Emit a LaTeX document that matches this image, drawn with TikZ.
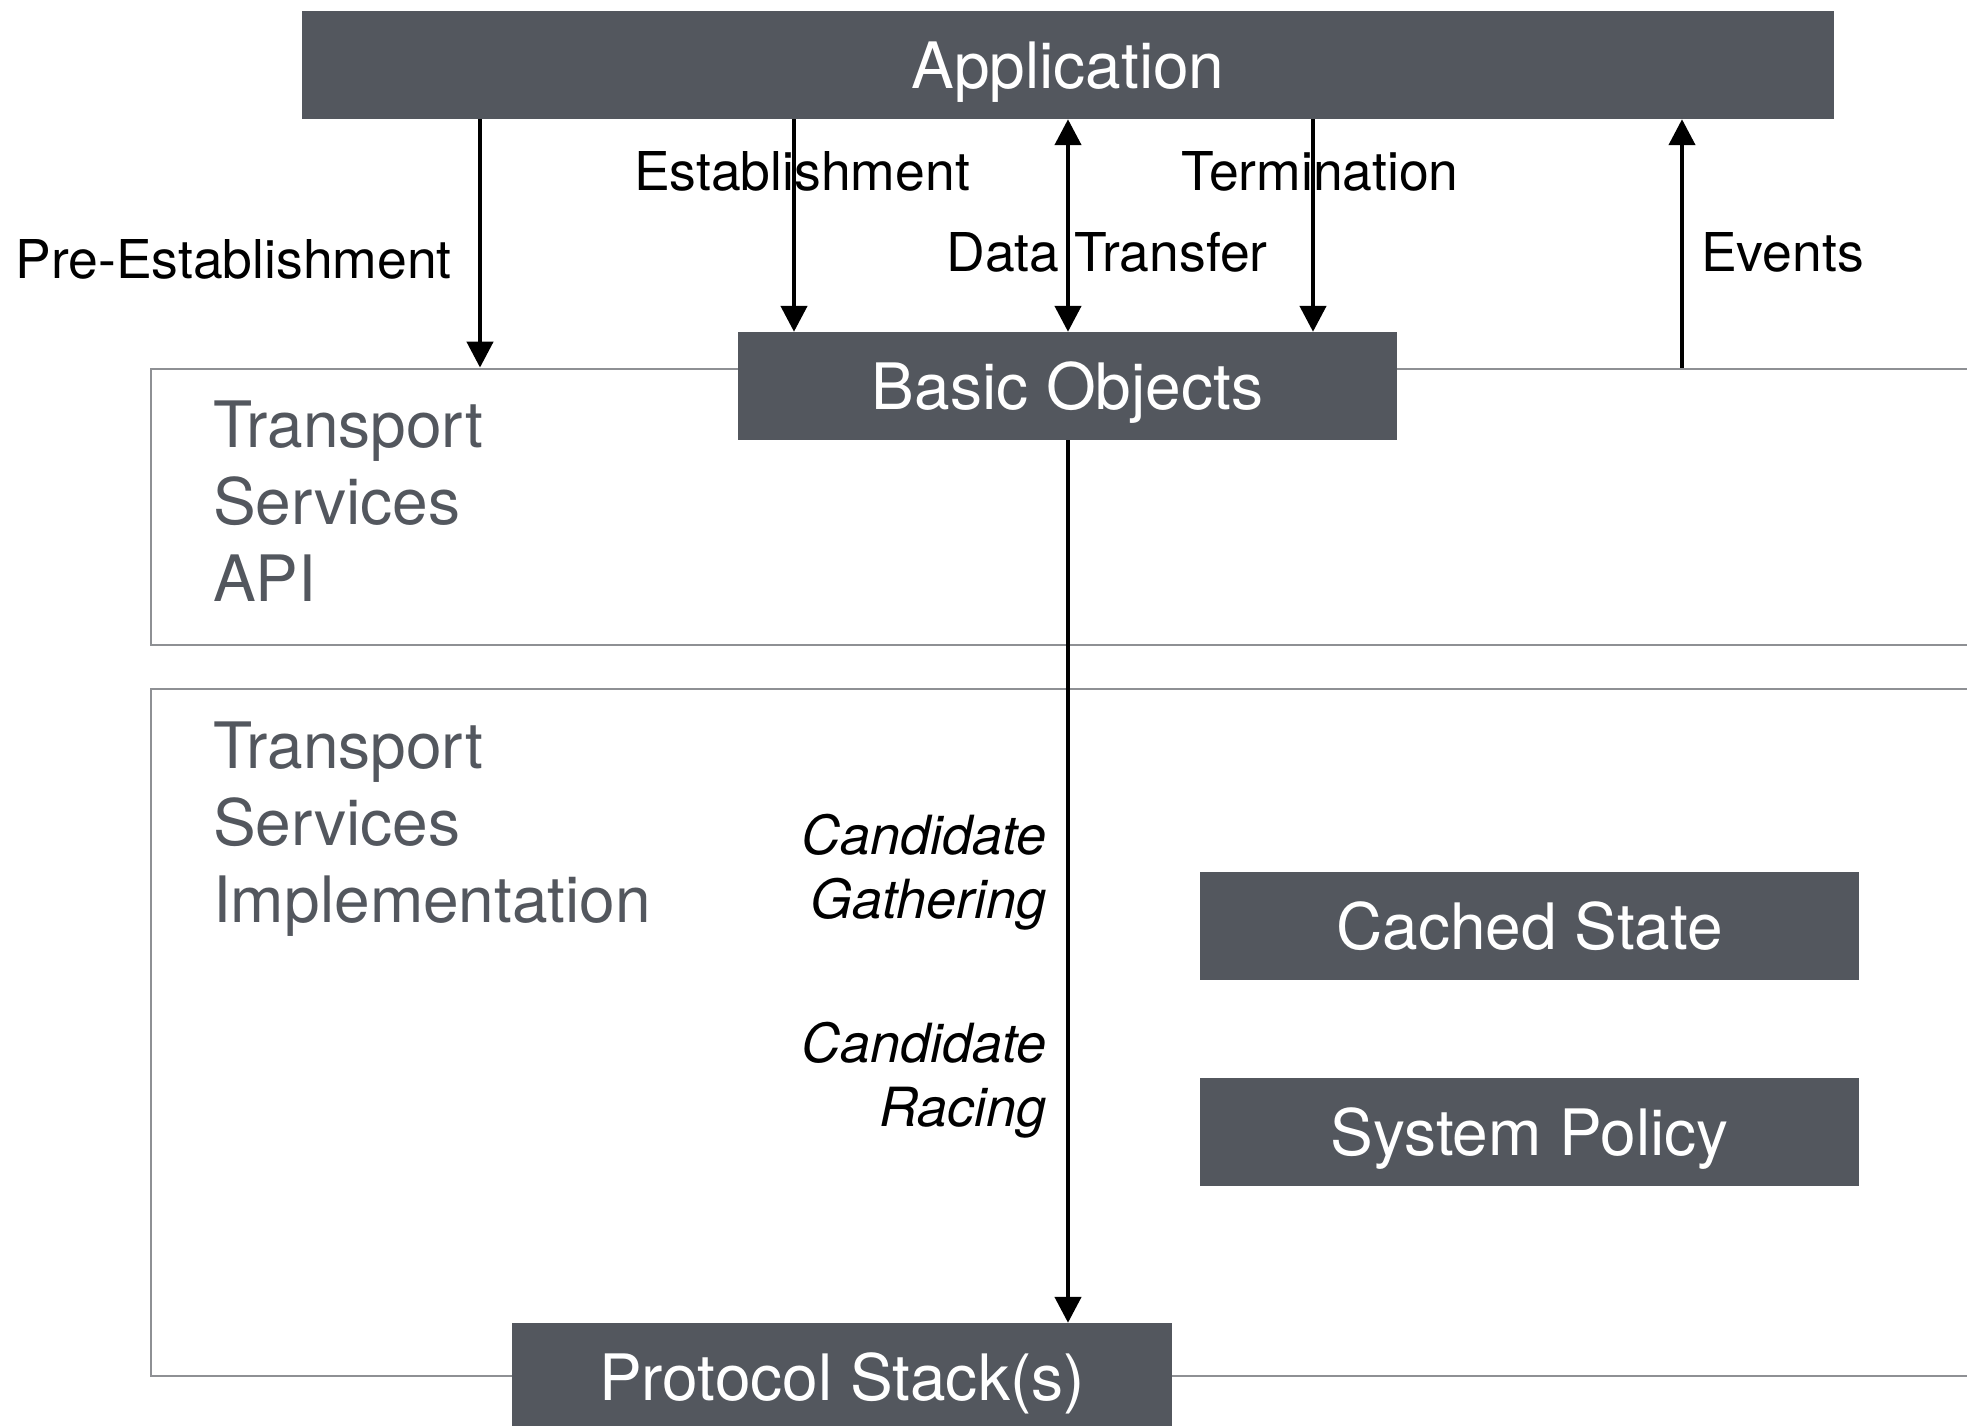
\documentclass[tikz,border=0pt]{standalone}
\usepackage{fontspec}
\setmainfont{TeX Gyre Heros}
\usetikzlibrary{arrows.meta}
\definecolor{boxgray}{RGB}{83,87,94}
\definecolor{linegray}{RGB}{142,144,148}
\begin{document}
\begin{tikzpicture}[x=1pt,y=-1pt,
  darkbox/.style={fill=boxgray, text=white, inner sep=0pt, minimum height=108pt,
    text height=46pt, text depth=0pt, font=\fontsize{64}{77}\selectfont},
  container/.style={draw=linegray, line width=2.8pt, inner sep=0pt},
  title/.style={text=boxgray, align=left, inner sep=0pt, anchor=north west,
    font=\fontsize{64}{77}\selectfont},
  flow/.style={line width=4.5pt, -{Triangle[length=26pt,width=26pt]}},
  flowboth/.style={line width=4.5pt, {Triangle[length=26pt,width=26pt]}-{Triangle[length=26pt,width=26pt]}},
  lbl/.style={inner sep=0pt, font=\fontsize{53.5}{64}\selectfont},
  ilbl/.style={inner sep=0pt, align=right, anchor=north east,
    font=\fontsize{54}{64}\selectfont\itshape}
]
\useasboundingbox (0,0) rectangle (1967,1425);
\begin{scope}
\clip (0,0) rectangle (1967,1425);
\fill[white] (0,0) rectangle (1967,1425);

% layer containers
\node[container, minimum width=1849pt, minimum height=276pt] (api) at (1075.5,507) {};
\node[container, minimum width=1849pt, minimum height=687pt] (impl) at (1075.5,1032.5) {};

\node[title] (tapi) at (213,401) {Transport\\Services\\API};
\node[title] (timpl) at (213,722) {Transport\\Services\\Implementation};

% dark boxes
\node[darkbox, minimum width=1532pt] (app) at (1068,65) {Application};
\node[darkbox, minimum width=659pt] (bo) at (1067.5,386) {Basic Objects};
\node[darkbox, minimum width=659pt] (cs) at (1529.5,926) {Cached State};
\node[darkbox, minimum width=659pt] (sp) at (1529.5,1132) {System Policy};
\node[darkbox, minimum width=660pt] (ps) at (842,1377) {Protocol Stack(s)};

% arrow x positions
\coordinate (xpe) at (480,0);
\coordinate (xes) at (794,0);
\coordinate (xte) at (1313,0);
\coordinate (xev) at (1682,0);

% connectors
\draw[flow] (app.south -| xpe) -- (api.north -| xpe);
\draw[flow] (app.south -| xes) -- (bo.north -| xes);
\draw[flowboth] (app.south) -- (bo.north -| app.south);
\draw[flow] (app.south -| xte) -- (bo.north -| xte);
\draw[flow] (api.north -| xev) -- (app.south -| xev);
\draw[flow] (bo.south -| app.south) -- (ps.north -| app.south);

% labels
\node[lbl, anchor=base east] (lpe) at (452,278) {Pre-Establishment};
\node[lbl, anchor=base] (les) at (802,190) {Establishment};
\node[lbl, anchor=base] (ldt) at (1107,271) {Data Transfer};
\node[lbl, anchor=base] (lte) at (1320,190) {Termination};
\node[lbl, anchor=base west] (lev) at (1701,271) {Events};

\node[ilbl] (lcg) at (1047,814) {Candidate\\Gathering};
\node[ilbl] (lcr) at (1047,1022) {Candidate\\Racing};
\end{scope}
\end{tikzpicture}
\end{document}
